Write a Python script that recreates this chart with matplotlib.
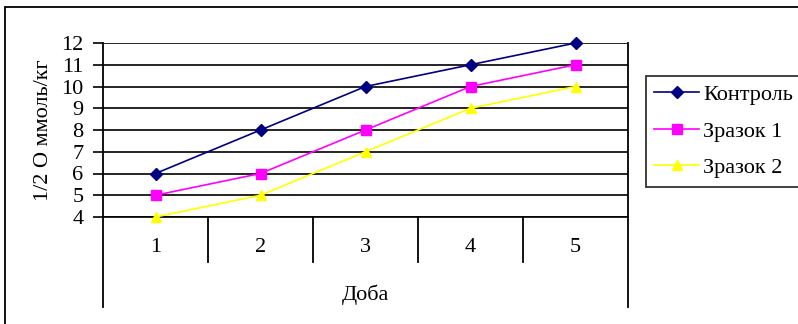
import matplotlib
matplotlib.use("Agg")
import matplotlib.pyplot as plt
from matplotlib.patches import Rectangle

plt.rcParams['font.family'] = ['Liberation Serif', 'DejaVu Serif']

days = ['1', '2', '3', '4', '5']
kontrol = [6, 8, 10, 11, 12]
zrazok1 = [5, 6, 8, 10, 11]
zrazok2 = [4, 5, 7, 9, 10]
yticks = [4, 5, 6, 7, 8, 9, 10, 11, 12]

W, H = 798, 324
fig = plt.figure(figsize=(W / 100, H / 100), dpi=100)

# outer chart border
fig.patches.append(Rectangle((5 / W, -0.05), 1.0, 1 - 7 / H + 0.05,
                             transform=fig.transFigure, fill=False,
                             edgecolor='black', lw=1.3))

# plot area in pixels: x 103..628, y 43..217
ax = fig.add_axes([103 / W, 1 - 217 / H, 525 / W, 174 / H])
x = [i + 0.5 for i in range(len(days))]
fs = 16

ax.plot(x, kontrol, color='#000080', marker='D', ms=6, lw=1.2, label='Контроль', clip_on=False, zorder=3)
ax.plot(x, zrazok1, color='#FF00FF', marker='s', ms=6.5, lw=1.2, label='Зразок 1', clip_on=False, zorder=3)
ax.plot(x, zrazok2, color='#FFFF00', marker='^', ms=7, lw=1.2, label='Зразок 2', clip_on=False, zorder=3)

ax.set_xlim(0, len(days))
ax.set_ylim(4, 12)
ax.set_yticks(yticks)
ax.set_yticklabels([str(v) for v in yticks], fontsize=fs)
ax.tick_params(axis='y', length=7, width=1.2, pad=7, direction='out')
ax.set_xticks([])
ax.grid(axis='y', color='black', lw=1.2)
ax.set_axisbelow(True)
for s in ['top', 'left', 'right']:
    ax.spines[s].set_visible(False)
ax.spines['bottom'].set_linewidth(1.2)

# category box lines below the plot
ax.axvline(0, ymin=-90 / 174, ymax=1, color='black', lw=1.3, clip_on=False)
ax.axvline(len(days), ymin=-90 / 174, ymax=1, color='black', lw=1.3, clip_on=False)
for i in range(1, len(days)):
    ax.axvline(i, ymin=-45 / 174, ymax=0, color='black', lw=1.3, clip_on=False)

for xi, d in zip(x, days):
    ax.text(xi, -31 / 174, d, transform=ax.get_xaxis_transform(), ha='center', va='center', fontsize=fs)
ax.text(0.5, -78 / 174, 'Доба', transform=ax.transAxes, ha='center', va='center', fontsize=fs)

fig.text(43 / W, 1 - 130 / H, '1/2 O ммоль/кг', rotation=90, ha='center', va='center', fontsize=fs)

leg = fig.legend(loc='upper left', bbox_to_anchor=(646 / W, 1 - 76 / H), borderaxespad=0,
                 fontsize=fs, frameon=True, fancybox=False, edgecolor='black',
                 handlelength=2.0, handletextpad=0.2, labelspacing=0.72, borderpad=0.38)
leg.get_frame().set_linewidth(1.3)

fig.savefig('out.png', dpi=100)
